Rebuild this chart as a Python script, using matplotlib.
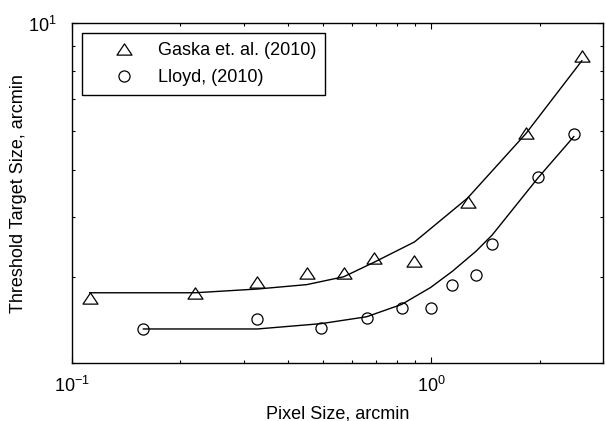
import matplotlib
matplotlib.use("Agg")
import matplotlib.pyplot as plt
from matplotlib.path import Path
from matplotlib.ticker import FixedLocator, LogLocator, NullFormatter, LogFormatterSciNotation

# Gaska et. al. (2010) - measured points and model curve
gaska_x = [0.112, 0.22, 0.328, 0.45, 0.57, 0.69, 0.897, 1.26, 1.83, 2.62]
gaska_y = [2.72, 2.79, 2.93, 3.06, 3.06, 3.29, 3.25, 4.29, 5.96, 8.57]
gaska_fit = [2.79, 2.79, 2.84, 2.90, 3.01, 3.22, 3.55, 4.37, 5.93, 8.38]

# Lloyd, (2010) - measured points and model curve
lloyd_x = [0.158, 0.328, 0.493, 0.66, 0.826, 0.994, 1.144, 1.332, 1.476, 1.979, 2.489]
lloyd_y = [2.35, 2.46, 2.36, 2.47, 2.59, 2.59, 2.89, 3.04, 3.51, 4.83, 5.93]
lloyd_fit = [2.35, 2.35, 2.41, 2.49, 2.64, 2.86, 3.09, 3.40, 3.67, 4.81, 5.85]

plt.rcParams["font.family"] = ["Liberation Sans", "DejaVu Sans"]
plt.rcParams["mathtext.fontset"] = "custom"
plt.rcParams["mathtext.rm"] = "Liberation Sans"
plt.rcParams["mathtext.default"] = "regular"

# MATLAB-style triangle: wider than tall
tri = Path([(-1, -0.75), (1, -0.75), (0, 0.75), (-1, -0.75)],
           [Path.MOVETO, Path.LINETO, Path.LINETO, Path.CLOSEPOLY])

fig = plt.figure(figsize=(6.06, 4.21), dpi=100)
ax = fig.add_axes([0.1188, 0.1378, 0.8762, 0.8064])

ax.plot(gaska_x, gaska_fit, color="black", lw=1.0)
ax.plot(lloyd_x, lloyd_fit, color="black", lw=1.0)
ax.plot(gaska_x, gaska_y, ls="none", marker=tri, ms=10.8, mfc="none",
        mec="black", mew=0.9, label="Gaska et. al. (2010)")
ax.plot(lloyd_x, lloyd_y, ls="none", marker="o", ms=8, mfc="none",
        mec="black", mew=0.9, label="Lloyd, (2010)")

ax.set_xscale("log")
ax.set_yscale("log")
ax.set_xlim(0.1, 3)
ax.set_ylim(2, 10)

ax.xaxis.set_major_locator(FixedLocator([0.1, 1]))
ax.xaxis.set_major_formatter(LogFormatterSciNotation())
ax.xaxis.set_minor_locator(LogLocator(base=10, subs=range(2, 10)))
ax.xaxis.set_minor_formatter(NullFormatter())
ax.yaxis.set_major_locator(FixedLocator([10]))
ax.yaxis.set_major_formatter(LogFormatterSciNotation())
ax.yaxis.set_minor_locator(LogLocator(base=10, subs=range(2, 10)))
ax.yaxis.set_minor_formatter(NullFormatter())

ax.tick_params(which="both", direction="in", top=True, right=True, width=0.8)
ax.tick_params(which="major", length=4, labelsize=13)
ax.tick_params(axis="x", which="major", pad=9)
ax.tick_params(axis="y", which="major", pad=11)
ax.tick_params(which="minor", length=2.5)
for s in ax.spines.values():
    s.set_linewidth(1.0)

ax.set_xlabel("Pixel Size, arcmin", fontsize=13, labelpad=7)
ax.set_ylabel("Threshold Target Size, arcmin", fontsize=13, labelpad=1)

leg = ax.legend(loc="upper left", bbox_to_anchor=(0.0188, 0.972), borderaxespad=0,
                fontsize=13, frameon=True, fancybox=False, edgecolor="black",
                framealpha=1, borderpad=0.5, handlelength=3.6, handletextpad=0.1,
                labelspacing=0.55, numpoints=1)
leg.get_frame().set_linewidth(1.0)

fig.savefig("out.png", dpi=100)
